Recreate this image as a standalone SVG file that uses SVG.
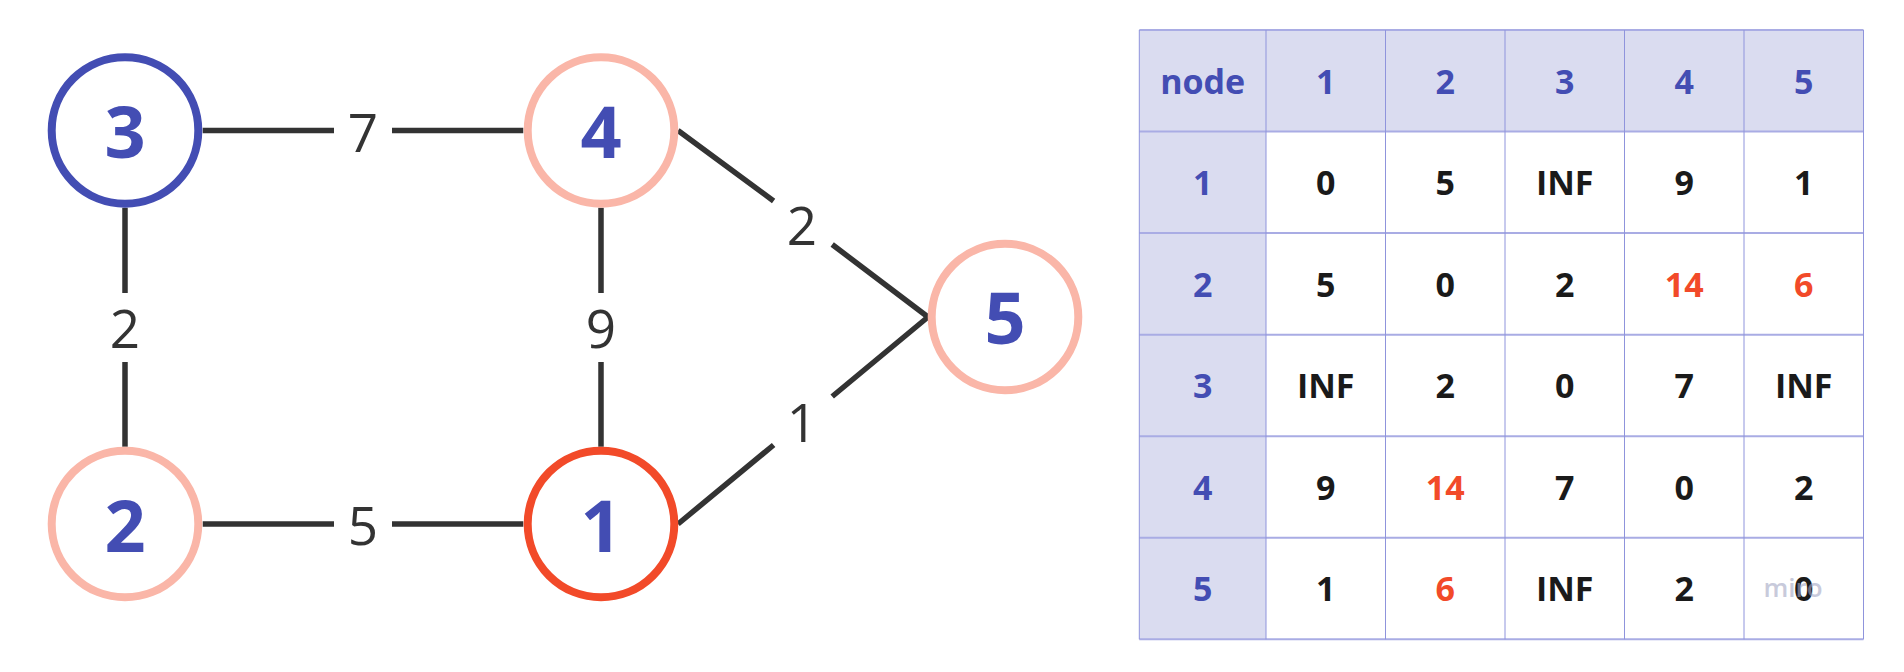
<svg xmlns="http://www.w3.org/2000/svg" width="1904" height="672" viewBox="0 0 1904 672">
<style>
.bg{fill:#ffffff}
.node circle{fill:#ffffff;stroke-width:8}
.n-blue{stroke:#434DB3}
.n-pink{stroke:#FAB6A8}
.n-red{stroke:#F24A29}
.nlabel{font-family:"Open Sans","Liberation Sans",sans-serif;font-weight:700;font-size:72px;fill:#434DB3;text-anchor:middle}
.edge{fill:none;stroke:#333333;stroke-width:5.5}
.elabel{font-family:"Open Sans","Liberation Sans",sans-serif;font-weight:400;font-size:53px;fill:#333333;text-anchor:middle}
.hfill{fill:#DADCF0}
.hl{stroke:#A9ACE4;stroke-width:2}
.vl{stroke:#8F94DC;stroke-width:1}
.th{font-family:"Open Sans","Liberation Sans",sans-serif;font-weight:700;font-size:34px;fill:#434DB3;text-anchor:middle}
.td{font-family:"Open Sans","Liberation Sans",sans-serif;font-weight:700;font-size:34px;fill:#1A1A1A;text-anchor:middle}
.tr{fill:#F24A29}
.wm{font-family:"Open Sans","Liberation Sans",sans-serif;font-weight:600;font-size:26px;fill:#A4A7C4;opacity:0.6;text-anchor:middle}
</style>
<rect class="bg" x="0" y="0" width="1904" height="672"/>

<g id="connectors">
  <path class="edge" d="M202.7,130.5 L334,130.5 M392,130.5 L523.3,130.5"/>
  <path class="edge" d="M202.7,524 L334,524 M392,524 L523.3,524"/>
  <path class="edge" d="M125,207.8 L125,293 M125,362 L125,446.7"/>
  <path class="edge" d="M601,207.8 L601,293 M601,362 L601,446.7"/>
  <path class="edge" d="M678,130.5 L773.6,201 M832.2,244.5 L928,317"/>
  <path class="edge" d="M678,524 L773.6,445 M832.2,396.5 L928,317"/>
  <text class="elabel" x="363" y="151.5">7</text>
  <text class="elabel" x="363" y="545">5</text>
  <text class="elabel" x="125" y="348">2</text>
  <text class="elabel" x="601" y="348">9</text>
  <text class="elabel" x="802" y="245">2</text>
  <text class="elabel" x="802" y="441.5">1</text>
</g>

<g id="node-3" class="node">
  <circle class="n-blue" cx="125" cy="130.5" r="73.3"/>
  <text class="nlabel" x="125" y="157.5">3</text>
</g>
<g id="node-4" class="node">
  <circle class="n-pink" cx="601" cy="130.5" r="73.3"/>
  <text class="nlabel" x="601" y="157.5">4</text>
</g>
<g id="node-2" class="node">
  <circle class="n-pink" cx="125" cy="524" r="73.3"/>
  <text class="nlabel" x="125" y="551.5">2</text>
</g>
<g id="node-1" class="node">
  <circle class="n-red" cx="601" cy="524" r="73.3"/>
  <text class="nlabel" x="601" y="551.5">1</text>
</g>
<g id="node-5" class="node">
  <circle class="n-pink" cx="1005" cy="317" r="73.3"/>
  <text class="nlabel" x="1005" y="344">5</text>
</g>

<g id="table">
  <rect class="hfill" x="1139.3" y="30" width="724.2" height="101.55"/>
  <rect class="hfill" x="1139.3" y="131.55" width="126.7" height="507.75"/>
  <g>
    <line class="hl" x1="1139.3" y1="30" x2="1863.5" y2="30"/>
    <line class="hl" x1="1139.3" y1="131.55" x2="1863.5" y2="131.55"/>
    <line class="hl" x1="1139.3" y1="233.1" x2="1863.5" y2="233.1"/>
    <line class="hl" x1="1139.3" y1="334.65" x2="1863.5" y2="334.65"/>
    <line class="hl" x1="1139.3" y1="436.2" x2="1863.5" y2="436.2"/>
    <line class="hl" x1="1139.3" y1="537.75" x2="1863.5" y2="537.75"/>
    <line class="hl" x1="1139.3" y1="639.3" x2="1863.5" y2="639.3"/>
    <line class="vl" x1="1139.3" y1="30" x2="1139.3" y2="639.3"/>
    <line class="vl" x1="1266" y1="30" x2="1266" y2="639.3"/>
    <line class="vl" x1="1385.5" y1="30" x2="1385.5" y2="639.3"/>
    <line class="vl" x1="1505" y1="30" x2="1505" y2="639.3"/>
    <line class="vl" x1="1624.5" y1="30" x2="1624.5" y2="639.3"/>
    <line class="vl" x1="1744" y1="30" x2="1744" y2="639.3"/>
    <line class="vl" x1="1863.5" y1="30" x2="1863.5" y2="639.3"/>
  </g>
  <g>
    <text class="th" x="1202.7" y="94">node</text>
    <text class="th" x="1325.75" y="94">1</text>
    <text class="th" x="1445.25" y="94">2</text>
    <text class="th" x="1564.75" y="94">3</text>
    <text class="th" x="1684.25" y="94">4</text>
    <text class="th" x="1803.75" y="94">5</text>
  </g>
  <g>
    <text class="th" x="1202.7" y="195">1</text>
    <text class="td" x="1325.75" y="195">0</text>
    <text class="td" x="1445.25" y="195">5</text>
    <text class="td" x="1564.75" y="195">INF</text>
    <text class="td" x="1684.25" y="195">9</text>
    <text class="td" x="1803.75" y="195">1</text>

    <text class="th" x="1202.7" y="296.6">2</text>
    <text class="td" x="1325.75" y="296.6">5</text>
    <text class="td" x="1445.25" y="296.6">0</text>
    <text class="td" x="1564.75" y="296.6">2</text>
    <text class="td tr" x="1684.25" y="296.6">14</text>
    <text class="td tr" x="1803.75" y="296.6">6</text>

    <text class="th" x="1202.7" y="398.1">3</text>
    <text class="td" x="1325.75" y="398.1">INF</text>
    <text class="td" x="1445.25" y="398.1">2</text>
    <text class="td" x="1564.75" y="398.1">0</text>
    <text class="td" x="1684.25" y="398.1">7</text>
    <text class="td" x="1803.75" y="398.1">INF</text>

    <text class="th" x="1202.7" y="499.7">4</text>
    <text class="td" x="1325.75" y="499.7">9</text>
    <text class="td tr" x="1445.25" y="499.7">14</text>
    <text class="td" x="1564.75" y="499.7">7</text>
    <text class="td" x="1684.25" y="499.7">0</text>
    <text class="td" x="1803.75" y="499.7">2</text>

    <text class="th" x="1202.7" y="601.2">5</text>
    <text class="td" x="1325.75" y="601.2">1</text>
    <text class="td tr" x="1445.25" y="601.2">6</text>
    <text class="td" x="1564.75" y="601.2">INF</text>
    <text class="td" x="1684.25" y="601.2">2</text>
    <text class="td" x="1803.75" y="601.2">0</text>
  </g>
  <text class="wm" x="1793" y="596.5">miro</text>
</g>
</svg>
